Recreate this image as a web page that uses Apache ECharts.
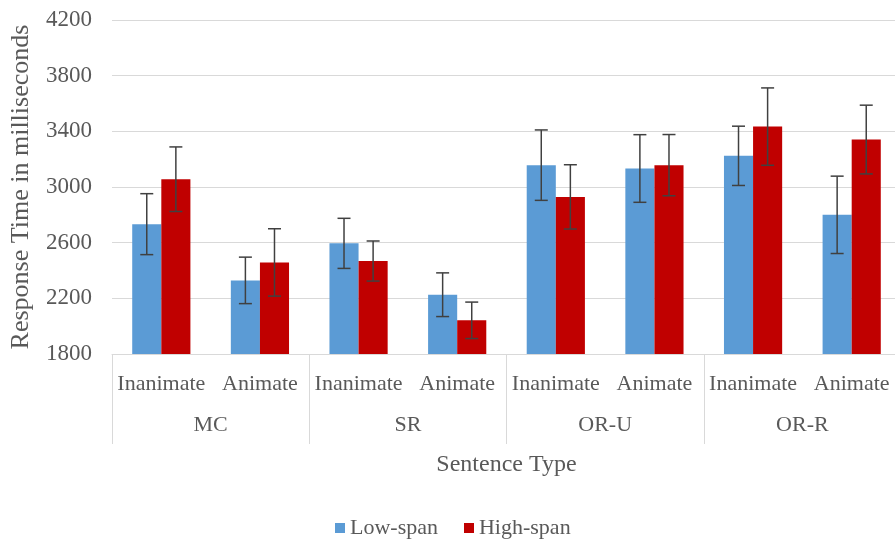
<!DOCTYPE html>
<html>
<head>
<meta charset="utf-8">
<script src="https://cdn.jsdelivr.net/npm/echarts@6/dist/echarts.min.js"></script>
<style>html,body{margin:0;padding:0;background:#fff}#c{width:895px;height:542px}</style>
</head>
<body>
<div id="c"></div>
<script>
const subCategories = ['Inanimate','Animate','Inanimate','Animate','Inanimate','Animate','Inanimate','Animate'];
const groups = ['MC','SR','OR-U','OR-R'];
const lowSpan = [2733, 2329, 2595, 2226, 3157, 3133, 3224, 2800];
const highSpan = [3056, 2458, 2468, 2042, 2929, 3157, 3434, 3341];
const lowErr = [219, 167, 180, 157, 253, 243, 213, 278];
const highErr = [232, 242, 144, 131, 231, 220, 278, 247];
const yTicks = { min: 1800, max: 4200, interval: 400 };

const FONT = '"Liberation Serif", "Times New Roman", serif';
const TXT = '#595959';
const GRID = '#d9d9d9';
const CAT_GAP = 0.41;
const BAR_FRAC = (1 - CAT_GAP) / 2;

function errData(vals, errs) {
  return vals.map((v, i) => [i, v - errs[i], v + errs[i]]);
}
function errRender(sign) {
  return function (params, api) {
    const idx = api.value(0);
    const cw = api.size([1, 0])[0];
    const cx = api.coord([idx, api.value(1)])[0] + sign * cw * BAR_FRAC / 2;
    const yl = api.coord([idx, api.value(1)])[1];
    const yh = api.coord([idx, api.value(2)])[1];
    const hw = 6.5;
    const style = { stroke: '#404040', lineWidth: 1.5 };
    return {
      type: 'group',
      children: [
        { type: 'line', shape: { x1: cx, y1: yl, x2: cx, y2: yh }, style },
        { type: 'line', shape: { x1: cx - hw, y1: yl, x2: cx + hw, y2: yl }, style },
        { type: 'line', shape: { x1: cx - hw, y1: yh, x2: cx + hw, y2: yh }, style }
      ]
    };
  };
}

const chart = echarts.init(document.getElementById('c'));
chart.setOption({
  animation: false,
  textStyle: { fontFamily: FONT },
  grid: { left: 112, right: -6, top: 20, bottom: 188, outerBoundsMode: 'none', containLabel: false },
  legend: {
    left: 330, top: 512,
    itemWidth: 10, itemHeight: 10, itemGap: 26,
    icon: 'rect',
    textStyle: { fontFamily: FONT, fontSize: 22, color: TXT },
    data: ['Low-span', 'High-span']
  },
  xAxis: [
    {
      type: 'category', data: subCategories,
      axisLine: { show: true, lineStyle: { color: GRID, width: 1 } },
      axisTick: { show: false },
      axisLabel: { interval: 0, margin: 19, fontFamily: FONT, fontSize: 22, color: TXT }
    },
    {
      type: 'category', data: groups, position: 'bottom',
      axisLine: { show: false },
      axisTick: { show: true, length: 90, interval: 0, lineStyle: { color: GRID, width: 1 } },
      axisLabel: { interval: 0, margin: 60, fontFamily: FONT, fontSize: 22, color: TXT },
      name: 'Sentence Type', nameLocation: 'middle', nameGap: 99,
      nameTextStyle: { fontFamily: FONT, fontSize: 24, color: TXT }
    }
  ],
  yAxis: {
    type: 'value', min: yTicks.min, max: yTicks.max, interval: yTicks.interval,
    axisLine: { show: false }, axisTick: { show: false },
    splitLine: { lineStyle: { color: GRID, width: 1 } },
    axisLabel: { margin: 20, fontFamily: FONT, fontSize: 23, color: TXT, formatter: v => String(v) },
    name: 'Response Time in milliseconds', nameLocation: 'middle', nameGap: 78,
    nameTextStyle: { fontFamily: FONT, fontSize: 26, color: TXT }
  },
  series: [
    { name: 'Low-span', type: 'bar', data: lowSpan, barGap: '0%', barCategoryGap: (CAT_GAP * 100) + '%',
      itemStyle: { color: '#5B9BD5' } },
    { name: 'High-span', type: 'bar', data: highSpan, barGap: '0%', barCategoryGap: (CAT_GAP * 100) + '%',
      itemStyle: { color: '#C00000' } },
    { type: 'custom', renderItem: errRender(-1), data: errData(lowSpan, lowErr), z: 10,
      encode: { x: 0, y: [1, 2] } },
    { type: 'custom', renderItem: errRender(1), data: errData(highSpan, highErr), z: 10,
      encode: { x: 0, y: [1, 2] } }
  ]
});
</script>
</body>
</html>
